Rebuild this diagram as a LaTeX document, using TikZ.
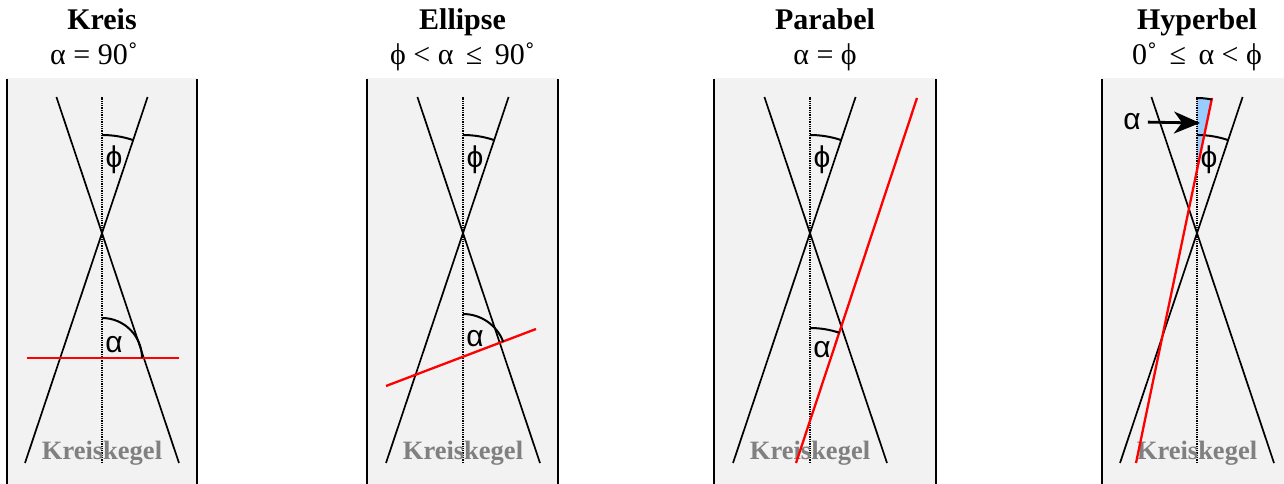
\documentclass[tikz,border=0pt]{standalone}
\usepackage{fontspec}
\setmainfont{Liberation Serif}
\newfontfamily\greekfont{Liberation Sans}
\usetikzlibrary{arrows.meta}
\definecolor{panelgray}{HTML}{F2F2F2}
\definecolor{kegelgray}{HTML}{808080}
\definecolor{wedgeblue}{HTML}{99CCFF}
\tikzset{
  panel/.style={fill=panelgray, draw=none},
  panelborder/.style={black, line width=2pt},
  coneline/.style={black, line width=1.7pt},
  axisline/.style={black, densely dotted, line width=1.3pt},
  cutline/.style={red, line width=2.3pt},
  anglearc/.style={black, line width=2pt},
  titlename/.style={anchor=base, inner sep=0pt,
    font=\fontsize{30}{36}\selectfont\bfseries},
  titlecond/.style={anchor=base, inner sep=0pt,
    font=\fontsize{30}{36}\selectfont},
  kegellabel/.style={anchor=base, inner sep=0pt, text=kegelgray,
    font=\fontsize{26.5}{30}\selectfont\bfseries},
  anglelabel/.style={inner sep=0pt, font=\greekfont\fontsize{30}{34}\selectfont},
  pointer/.style={-{Stealth[length=26pt, width=22pt, inset=8pt]}, line width=2.8pt}
}

\begin{document}
\begin{tikzpicture}[x=1pt, y=1pt]
\useasboundingbox (0,0) rectangle (1284,484);

% ── Grey panels with their side borders ──────────────────────────────────────
\fill[panel] (7,0) rectangle (197,406);
\fill[panel] (367,0) rectangle (558,406);
\fill[panel] (714,0) rectangle (936,406);
\fill[panel] (1102,0) rectangle (1284,406);
\foreach \xb in {7,197,367,558,714,936,1102} {
  \draw[panelborder] (\xb,0) -- (\xb,405);
}

% ── Titles (name + condition) ────────────────────────────────────────────────
\node[titlename] (name1) at (102,454)   {Kreis};
\node[titlename] (name2) at (462.5,454) {Ellipse};
\node[titlename] (name3) at (825,454)   {Parabel};
\node[titlename] (name4) at (1197,454)  {Hyperbel};
\node[titlecond] (cond1) at (94,419)    {α = 90˚};
\node[titlecond] (cond2) at (462.5,419) {ϕ < α \,≤\, 90˚};
\node[titlecond] (cond3) at (825,419)   {α = ϕ};
\node[titlecond] (cond4) at (1197,419)  {0˚ \,≤\, α < ϕ};

% ── Hyperbel: shaded angle wedge (drawn under the lines) ─────────────────────
\coordinate (cross4) at (1197,314);
\fill[wedgeblue] (cross4) -- ++(90:72) arc[start angle=90, end angle=78.2, radius=72] -- cycle;

% ── Double cones, axes and the apex of each ──────────────────────────────────
\foreach \ax/\i in {102/1, 463/2, 810/3, 1197/4} {
  \coordinate (apex\i) at (\ax,251);
  \draw[coneline] ({\ax-77},21) -- ({\ax+45.6},387);
  \draw[coneline] ({\ax+77},21) -- ({\ax-45.6},387);
  \draw[axisline] (\ax,21) -- (\ax,387);
  \node[kegellabel] (kegel\i) at (\ax,24) {Kreiskegel};
  % phi arc at the apex
  \draw[anglearc] ([shift={(90:98)}]apex\i) arc[start angle=90, end angle=71.5, radius=98];
  \node[anglelabel] (phi\i) at ({\ax+12},324) {ϕ};
}

% ── Cutting planes (red) ─────────────────────────────────────────────────────
\draw[cutline] (27,126) -- (179,126);
\draw[cutline] (386,98) -- (536,155);
\draw[cutline] (796,21) -- (917,386);
\draw[cutline] (1136,21) -- (1212,386);

% ── Angle alpha between axis and plane ───────────────────────────────────────
\coordinate (cross1) at (102,126);
\coordinate (cross2) at (463,127);
\coordinate (cross3) at (810,63);
\draw[anglearc] ([shift={(90:40)}]cross1) arc[start angle=90, end angle=0, radius=40];
\draw[anglearc] ([shift={(90:43)}]cross2) arc[start angle=90, end angle=20.8, radius=43];
\draw[anglearc] ([shift={(90:93)}]cross3) arc[start angle=90, end angle=71.5, radius=93];
\draw[anglearc] ([shift={(90:72)}]cross4) arc[start angle=90, end angle=78.2, radius=72];

\node[anglelabel] (alpha1) at (114,139) {α};
\node[anglelabel] (alpha2) at (475,145) {α};
\node[anglelabel] (alpha3) at (822,134) {α};
\node[anglelabel] (alpha4) at (1132,362) {α};

% pointer to the small hyperbel wedge
\coordinate (wedge4) at (1200,361);
\draw[pointer, shorten <=7pt] (alpha4.east) -- (wedge4);

\end{tikzpicture}
\end{document}
